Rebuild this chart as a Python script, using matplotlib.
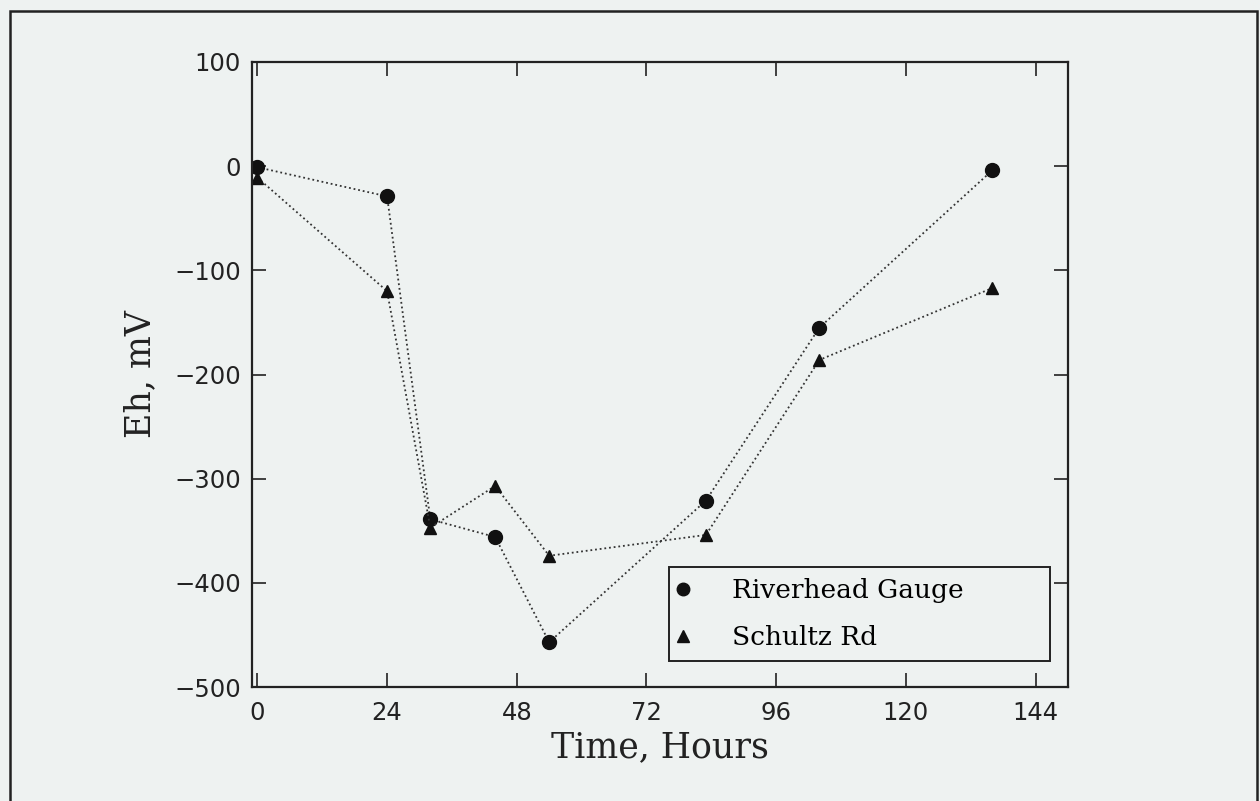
import numpy as np
import matplotlib
matplotlib.use("Agg")
from matplotlib import pyplot as plt
from matplotlib.lines import Line2D
from matplotlib.patches import Rectangle

# sampling times, hours
hours = [0, 24, 32, 44, 54, 83, 104, 136]
# Eh readings, mV
riverhead = [-1, -29, -339, -356, -457, -321, -155, -4]
schultz = [-11, -120, -347, -307, -374, -354, -186, -117]

x_ticks = [0, 24, 48, 72, 96, 120, 144]
y_ticks = [100, 0, -100, -200, -300, -400, -500]

bg = "#eef2f1"
serif = "DejaVu Serif"

fig = plt.figure(figsize=(12.6, 8.01), dpi=100, facecolor=bg)
ax = fig.add_axes([0.2, 0.1423, 0.6476, 0.7803])
ax.set_facecolor(bg)

# outer frame round the whole figure
fig.add_artist(Rectangle((10 / 1260, -0.02), 1247 / 1260, 1.0063 - 11 / 801 + 0.0137,
                         transform=fig.transFigure, fill=False, edgecolor="#222222", lw=1.8))

ax.plot(hours, riverhead, linestyle=(0, (1, 1.6)), color="#333333", lw=1.3,
        marker="o", markersize=10, markerfacecolor="#111111", markeredgecolor="#111111")
ax.plot(hours, schultz, linestyle=(0, (1, 1.6)), color="#333333", lw=1.3,
        marker="^", markersize=9, markerfacecolor="#111111", markeredgecolor="#111111")

ax.set_xlim(-1, 150)
ax.set_ylim(-500, 100)
ax.set_xticks(x_ticks)
ax.set_yticks(y_ticks)
ax.set_yticklabels([str(v).replace("-", "\u2212") for v in y_ticks])

ax.tick_params(direction="in", length=10, width=1.2, top=True, right=True,
               labelsize=17.5, pad=8, colors="#222222")
ax.tick_params(axis="x", pad=10)
for s in ax.spines.values():
    s.set_linewidth(1.6)
    s.set_color("#222222")

ax.set_xlabel("Time, Hours", fontsize=25, family=serif, labelpad=4, color="#222222")
ax.set_ylabel("Eh, mV", fontsize=25, family=serif, labelpad=12, color="#222222")

handles = [
    Line2D([], [], linestyle="none", marker="o", markersize=9, color="#111111"),
    Line2D([], [], linestyle="none", marker="^", markersize=8, color="#111111"),
]
leg = ax.legend(handles, ["Riverhead Gauge", "Schultz Rd"],
                loc="lower left", bbox_to_anchor=(0.511, 0.0416, 0.467, 0.149),
                mode="expand", fancybox=False, frameon=True, handlelength=0.3,
                handletextpad=1.7, borderaxespad=0, borderpad=0.4, labelspacing=0.85,
                prop={"family": serif, "size": 19})
leg.get_frame().set_edgecolor("#222222")
leg.get_frame().set_linewidth(1.4)
leg.get_frame().set_facecolor(bg)
leg.get_frame().set_alpha(1)

plt.savefig("out.png", dpi=100, facecolor=bg)
